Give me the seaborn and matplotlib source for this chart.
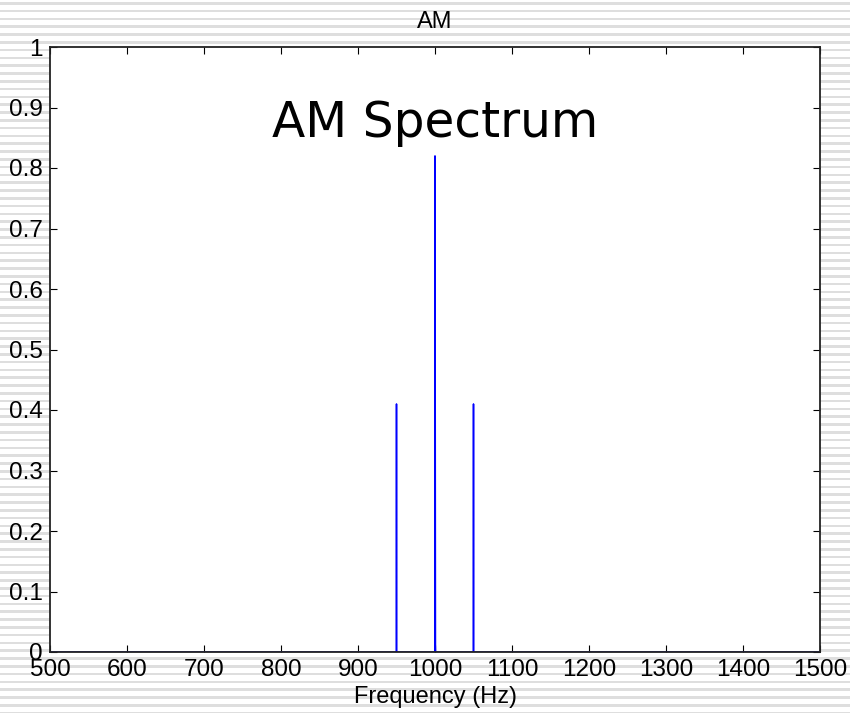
import matplotlib
matplotlib.use("Agg")
import matplotlib.pyplot as plt
import numpy as np
import pandas as pd
import seaborn as sns

# spectrum samples (Hz, magnitude)
freq = [500, 949.8, 950, 950.2, 999.8, 1000, 1000.6, 1000.8, 1049.8, 1050, 1050.2, 1500]
amp = [0.0, 0.0, 0.41, 0.0, 0.0, 0.82, 0.012, 0.0, 0.0, 0.41, 0.0, 0.0]
xticks = [500, 600, 700, 800, 900, 1000, 1100, 1200, 1300, 1400, 1500]
yticks = [0, 0.1, 0.2, 0.3, 0.4, 0.5, 0.6, 0.7, 0.8, 0.9, 1]

df = pd.DataFrame({"freq": freq, "amp": amp})

sns.set_style("ticks")
plt.rcParams["font.family"] = ["Liberation Sans", "DejaVu Sans"]
plt.rcParams["text.color"] = "black"

fig = plt.figure(figsize=(8.5, 7.13), dpi=100)

# striped slide background
bg = fig.add_axes([0, 0, 1, 1], zorder=0)
bg.set_xlim(0, 1)
bg.set_ylim(713, 0)
for y0 in np.arange(2, 713, 7.8):
    bg.axhspan(y0, y0 + 2.6, color="#dedede", lw=0)
bg.axis("off")

ax = fig.add_axes([50 / 850, 1 - 652 / 713, 770 / 850, 605 / 713], zorder=1)
ax.set_facecolor("white")
sns.lineplot(data=df, x="freq", y="amp", ax=ax, color="#0000ff", lw=1.1,
             sort=False, estimator=None)

ax.set_xlim(500, 1500)
ax.set_ylim(0, 1)
ax.set_xticks(xticks)
ax.set_xticklabels([str(t) for t in xticks])
ax.set_yticks(yticks)
ax.set_yticklabels([f"{t:g}" for t in yticks])
ax.tick_params(direction="in", length=5, width=0.8, labelsize=17.5,
               top=True, right=True, pad=5, colors="black")
for s in ax.spines.values():
    s.set_linewidth(1.3)
    s.set_color("#222222")

ax.set_xlabel("Frequency (Hz)", fontsize=17, labelpad=4, color="black")
ax.set_ylabel("")
ax.set_title("AM", fontsize=17, pad=14, color="black")
ax.text(1000, 0.874, "AM Spectrum", fontsize=35, ha="center", va="center",
        color="black", family=["DejaVu Sans"])

fig.savefig("out.png", dpi=100)
